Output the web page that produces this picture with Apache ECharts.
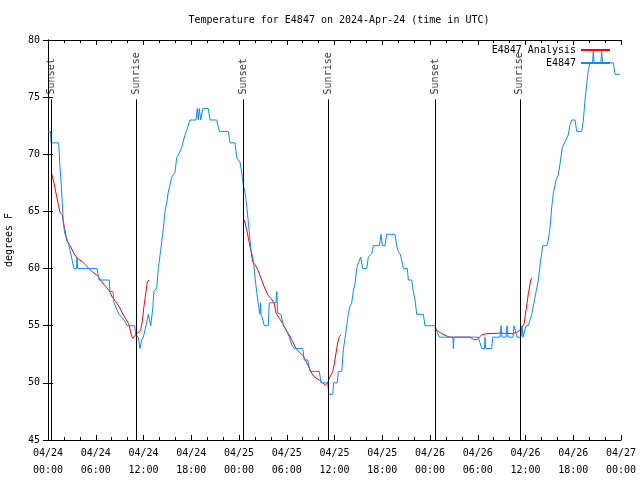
<!DOCTYPE html>
<html>
<head>
<meta charset="utf-8">
<script src="https://cdn.jsdelivr.net/npm/echarts@6/dist/echarts.min.js"></script>
<style>html,body{margin:0;padding:0;background:#fff;}#chart{width:640px;height:480px;}</style>
</head>
<body>
<div id="chart"></div>
<script>
// Hours since 2024-04-24 00:00 UTC, temperature in degrees F
const observed = [
[0.00,72],[0.31,72],[0.38,71],[1.34,71],[1.51,68.8],[1.67,67.3],[1.80,65.7],[1.92,64],[2.10,63.1],[2.43,62.5],[2.64,62],[2.85,61.3],[3.05,60.7],[3.27,60],[3.58,60],[3.64,61],[3.74,60],[6.16,60],[6.41,59],[7.70,59],[7.79,58],[8.17,58],[8.29,57],[8.92,56],[9.55,55.5],[9.96,55],[10.89,55],[11.02,54.2],[11.35,54],[11.56,53],[11.77,53.75],[11.98,54],[12.31,55],[12.60,56],[12.91,55],[13.16,56.5],[13.32,58],[13.66,58.3],[13.86,60],[14.16,61.6],[14.49,63.5],[14.70,65],[14.92,65.8],[15.12,66.7],[15.54,68],[15.96,68.4],[16.17,69.7],[16.50,70.1],[16.80,70.6],[17.22,71.7],[17.43,72.1],[17.84,73],[18.60,73],[18.76,74],[18.89,73],[19.01,74],[19.19,73],[19.44,74],[20.14,74],[20.36,73],[21.20,73],[21.53,72],[22.66,72],[22.87,71],[23.50,71],[23.71,69.7],[24.13,69.3],[24.34,68.4],[24.54,67.3],[24.76,66.7],[24.97,65.5],[25.17,64.1],[25.30,63.1],[25.51,61.6],[25.80,60.75],[26.05,59],[26.23,57.9],[26.48,56.6],[26.64,56],[26.70,57],[26.77,56],[26.89,55.8],[27.18,55],[27.68,55],[27.80,57],[28.65,57],[28.74,58],[28.86,56.1],[29.28,56],[29.57,55],[29.91,54.7],[30.32,54],[30.66,53.3],[30.95,53],[32.01,53],[32.21,52],[32.63,52],[32.92,51],[34.09,51],[34.31,50],[35.15,50],[35.27,49],[35.78,49],[35.90,50],[36.35,50],[36.48,51],[36.91,51],[37.11,52.9],[37.32,53.9],[37.53,55],[37.74,56],[37.95,56.7],[38.16,57],[38.36,58],[38.58,58.7],[38.79,60],[38.99,60.5],[39.29,61],[39.55,60],[40.05,60],[40.25,61],[40.68,61.3],[40.88,62],[41.63,62],[41.85,63],[42.01,62],[42.35,62],[42.56,63],[43.60,63],[43.82,62],[44.02,61.5],[44.23,61.3],[44.45,60.75],[44.65,60],[45.15,60],[45.28,59],[45.70,59],[45.90,58],[46.12,57.25],[46.33,56],[47.16,56],[47.37,55],[48.63,55],[48.84,54.6],[49.17,54],[50.89,54],[50.93,53],[51.02,54],[54.07,54],[54.29,53.5],[54.50,53],[54.85,53],[54.91,54],[55.00,53],[55.75,53],[55.88,54],[56.80,54],[56.93,55],[57.05,54],[57.55,54],[57.68,55],[57.80,54],[58.43,54],[58.56,55],[58.81,55],[58.93,54],[59.44,54],[59.56,55],[59.69,54],[59.94,54],[60.07,55],[60.36,55],[60.78,56],[61.20,57.5],[61.61,59],[61.91,60.75],[62.16,62],[62.67,62],[62.87,62.5],[63.08,63.6],[63.30,65.4],[63.50,66.6],[63.84,67.75],[64.13,68.2],[64.34,69.2],[64.63,70.6],[64.97,71.1],[65.38,71.7],[65.60,72.6],[65.81,73],[66.22,73],[66.44,72],[67.06,72],[67.27,73],[67.48,74.75],[67.70,76.2],[67.90,77.4],[68.11,78],[68.42,78],[68.52,79],[68.63,78],[69.46,78],[69.57,79],[69.68,78],[71.04,78],[71.25,77],[71.88,77]
];
const analysisNight1 = [
[0.46,68.3],[0.75,67.5],[1.09,66.3],[1.51,64.9],[1.80,64.7],[2.01,63.8],[2.35,62.5],[2.85,61.9],[3.27,61.3],[3.68,60.9],[4.31,60.6],[4.74,60.3],[5.15,60],[5.57,59.7],[6.20,59.4],[6.62,59],[7.04,58.6],[7.67,58.1],[8.08,57.5],[8.51,57.1],[8.92,56.7],[9.34,56.1],[9.76,55.6],[10.18,55.1],[10.47,54.2],[10.64,53.9],[10.89,54],[11.15,54.3],[11.65,54.6],[11.85,55.4],[12.06,56.7],[12.28,57.8],[12.48,58.85],[12.69,59]
];
const analysisNight2 = [
[24.67,64.25],[24.97,63.4],[25.22,62.5],[25.51,61.5],[25.72,60.6],[26.05,60.3],[26.35,59.9],[26.77,59.15],[27.18,58.4],[27.61,57.7],[28.02,57.4],[28.44,56.95],[28.65,56.1],[29.07,55.65],[29.49,55.2],[29.91,54.6],[30.32,54.2],[30.75,53.6],[31.16,53],[31.58,52.7],[32.01,52.4],[32.42,51.9],[32.84,51.3],[33.26,50.7],[33.68,50.4],[34.09,50.25],[34.52,50],[34.85,49.8],[35.15,50],[35.35,50.4],[35.78,51],[35.98,51.7],[36.19,52.6],[36.40,53.5],[36.61,54.05],[36.82,54.2]
];
const analysisNight3 = [
[48.76,54.6],[49.05,54.5],[49.47,54.3],[50.10,54.1],[50.52,54],[53.03,54],[53.45,53.8],[53.87,53.75],[54.20,54],[54.50,54.2],[55.13,54.3],[56.80,54.35],[58.47,54.3],[59.10,54.5],[59.53,54.8],[59.83,55.2],[60.07,56.4],[60.36,57.8],[60.66,59],[60.78,59.2]
];
const sunHours = [0.47, 11.12, 24.54, 35.22, 48.67, 59.29];
const sunNames = ['Sunset', 'Sunrise', 'Sunset', 'Sunrise', 'Sunset', 'Sunrise'];
const xTickLabels = ['04/24\n00:00','04/24\n06:00','04/24\n12:00','04/24\n18:00','04/25\n00:00','04/25\n06:00','04/25\n12:00','04/25\n18:00','04/26\n00:00','04/26\n06:00','04/26\n12:00','04/26\n18:00','04/27\n00:00'];

const FONT = 'DejaVu Sans Mono';
const RED = '#ff0000';
const BLUE = '#0a8cff';
const chart = echarts.init(document.getElementById('chart'), null, {renderer: 'canvas'});

const axisCommon = {
  axisLine: {show: true, lineStyle: {color: '#000', width: 1}},
  splitLine: {show: false}
};
const sunTop = 74.8;

const analysisSeries = [analysisNight1, analysisNight2, analysisNight3].map(d => ({
  name: 'E4847 Analysis', type: 'line', data: d, showSymbol: false, symbol: 'none',
  lineStyle: {color: RED, width: 1}, itemStyle: {color: RED}, z: 3, silent: true
}));

const option = {
  animation: false,
  backgroundColor: '#fff',
  textStyle: {fontFamily: FONT},
  title: {
    text: 'Temperature for E4847 on 2024-Apr-24 (time in UTC)',
    left: 334, top: 10, textAlign: 'center',
    textStyle: {fontFamily: FONT, fontSize: 10, fontWeight: 'normal', color: '#000'}
  },
  legend: {
    data: [
      {name: 'E4847 Analysis', icon: 'rect', itemStyle: {color: RED}},
      {name: 'E4847', icon: 'rect', itemStyle: {color: BLUE}}
    ],
    orient: 'vertical', align: 'right', right: 25, top: 39,
    itemWidth: 29, itemHeight: 2, itemGap: 1,
    textStyle: {fontFamily: FONT, fontSize: 10, color: '#000', lineHeight: 12},
    selectedMode: false
  },
  grid: {left: 48, right: 19, top: 40, bottom: 40, containLabel: false, outerBoundsMode: 'none'},
  xAxis: [
    Object.assign({}, axisCommon, {
      type: 'value', min: 0, max: 72, interval: 6, position: 'bottom',
      axisTick: {show: true, inside: true, length: 5, lineStyle: {color: '#000'}},
      minorTick: {show: true, splitNumber: 3, length: 3, lineStyle: {color: '#000'}},
      minorSplitLine: {show: false},
      axisLabel: {
        show: true, margin: 5, fontFamily: FONT, fontSize: 10, color: '#000', lineHeight: 17,
        formatter: v => xTickLabels[Math.round(v / 6)] || ''
      }
    }),
    Object.assign({}, axisCommon, {
      type: 'value', min: 0, max: 72, interval: 6, position: 'top',
      axisTick: {show: true, inside: true, length: 5, lineStyle: {color: '#000'}},
      minorTick: {show: true, splitNumber: 3, length: 3, lineStyle: {color: '#000'}},
      axisLabel: {show: false}
    })
  ],
  yAxis: [
    Object.assign({}, axisCommon, {
      type: 'value', min: 45, max: 80, interval: 5, position: 'left',
      name: 'degrees F', nameLocation: 'middle', nameRotate: 90, nameGap: 34,
      nameTextStyle: {fontFamily: FONT, fontSize: 10, color: '#000'},
      axisTick: {show: true, inside: true, length: 5, lineStyle: {color: '#000'}},
      axisLabel: {show: true, margin: 8, fontFamily: FONT, fontSize: 10, color: '#000'}
    }),
    Object.assign({}, axisCommon, {
      type: 'value', min: 45, max: 80, interval: 5, position: 'right',
      axisTick: {show: true, inside: true, length: 5, lineStyle: {color: '#000'}},
      axisLabel: {show: false}
    })
  ],
  series: analysisSeries.concat([
    {
      name: 'E4847', type: 'line', data: observed, showSymbol: false, symbol: 'none',
      lineStyle: {color: BLUE, width: 1}, itemStyle: {color: BLUE}, z: 4, silent: true
    },
    {
      name: 'sun', type: 'scatter', symbolSize: 0, silent: true, z: 2,
      data: sunHours.map((h, i) => ({value: [h, sunTop], name: sunNames[i]})),
      label: {
        show: true, formatter: '{b}', position: 'top', distance: 5, rotate: 90,
        align: 'left', verticalAlign: 'middle',
        fontFamily: FONT, fontSize: 10, color: '#000'
      },
      markLine: {
        silent: true, symbol: ['none', 'none'], animation: false,
        label: {show: false},
        lineStyle: {color: '#000', width: 1, type: 'solid'},
        emphasis: {disabled: true},
        data: sunHours.map(h => [{coord: [h, 45]}, {coord: [h, sunTop]}])
      }
    }
  ])
};
chart.setOption(option);
</script>
</body>
</html>
